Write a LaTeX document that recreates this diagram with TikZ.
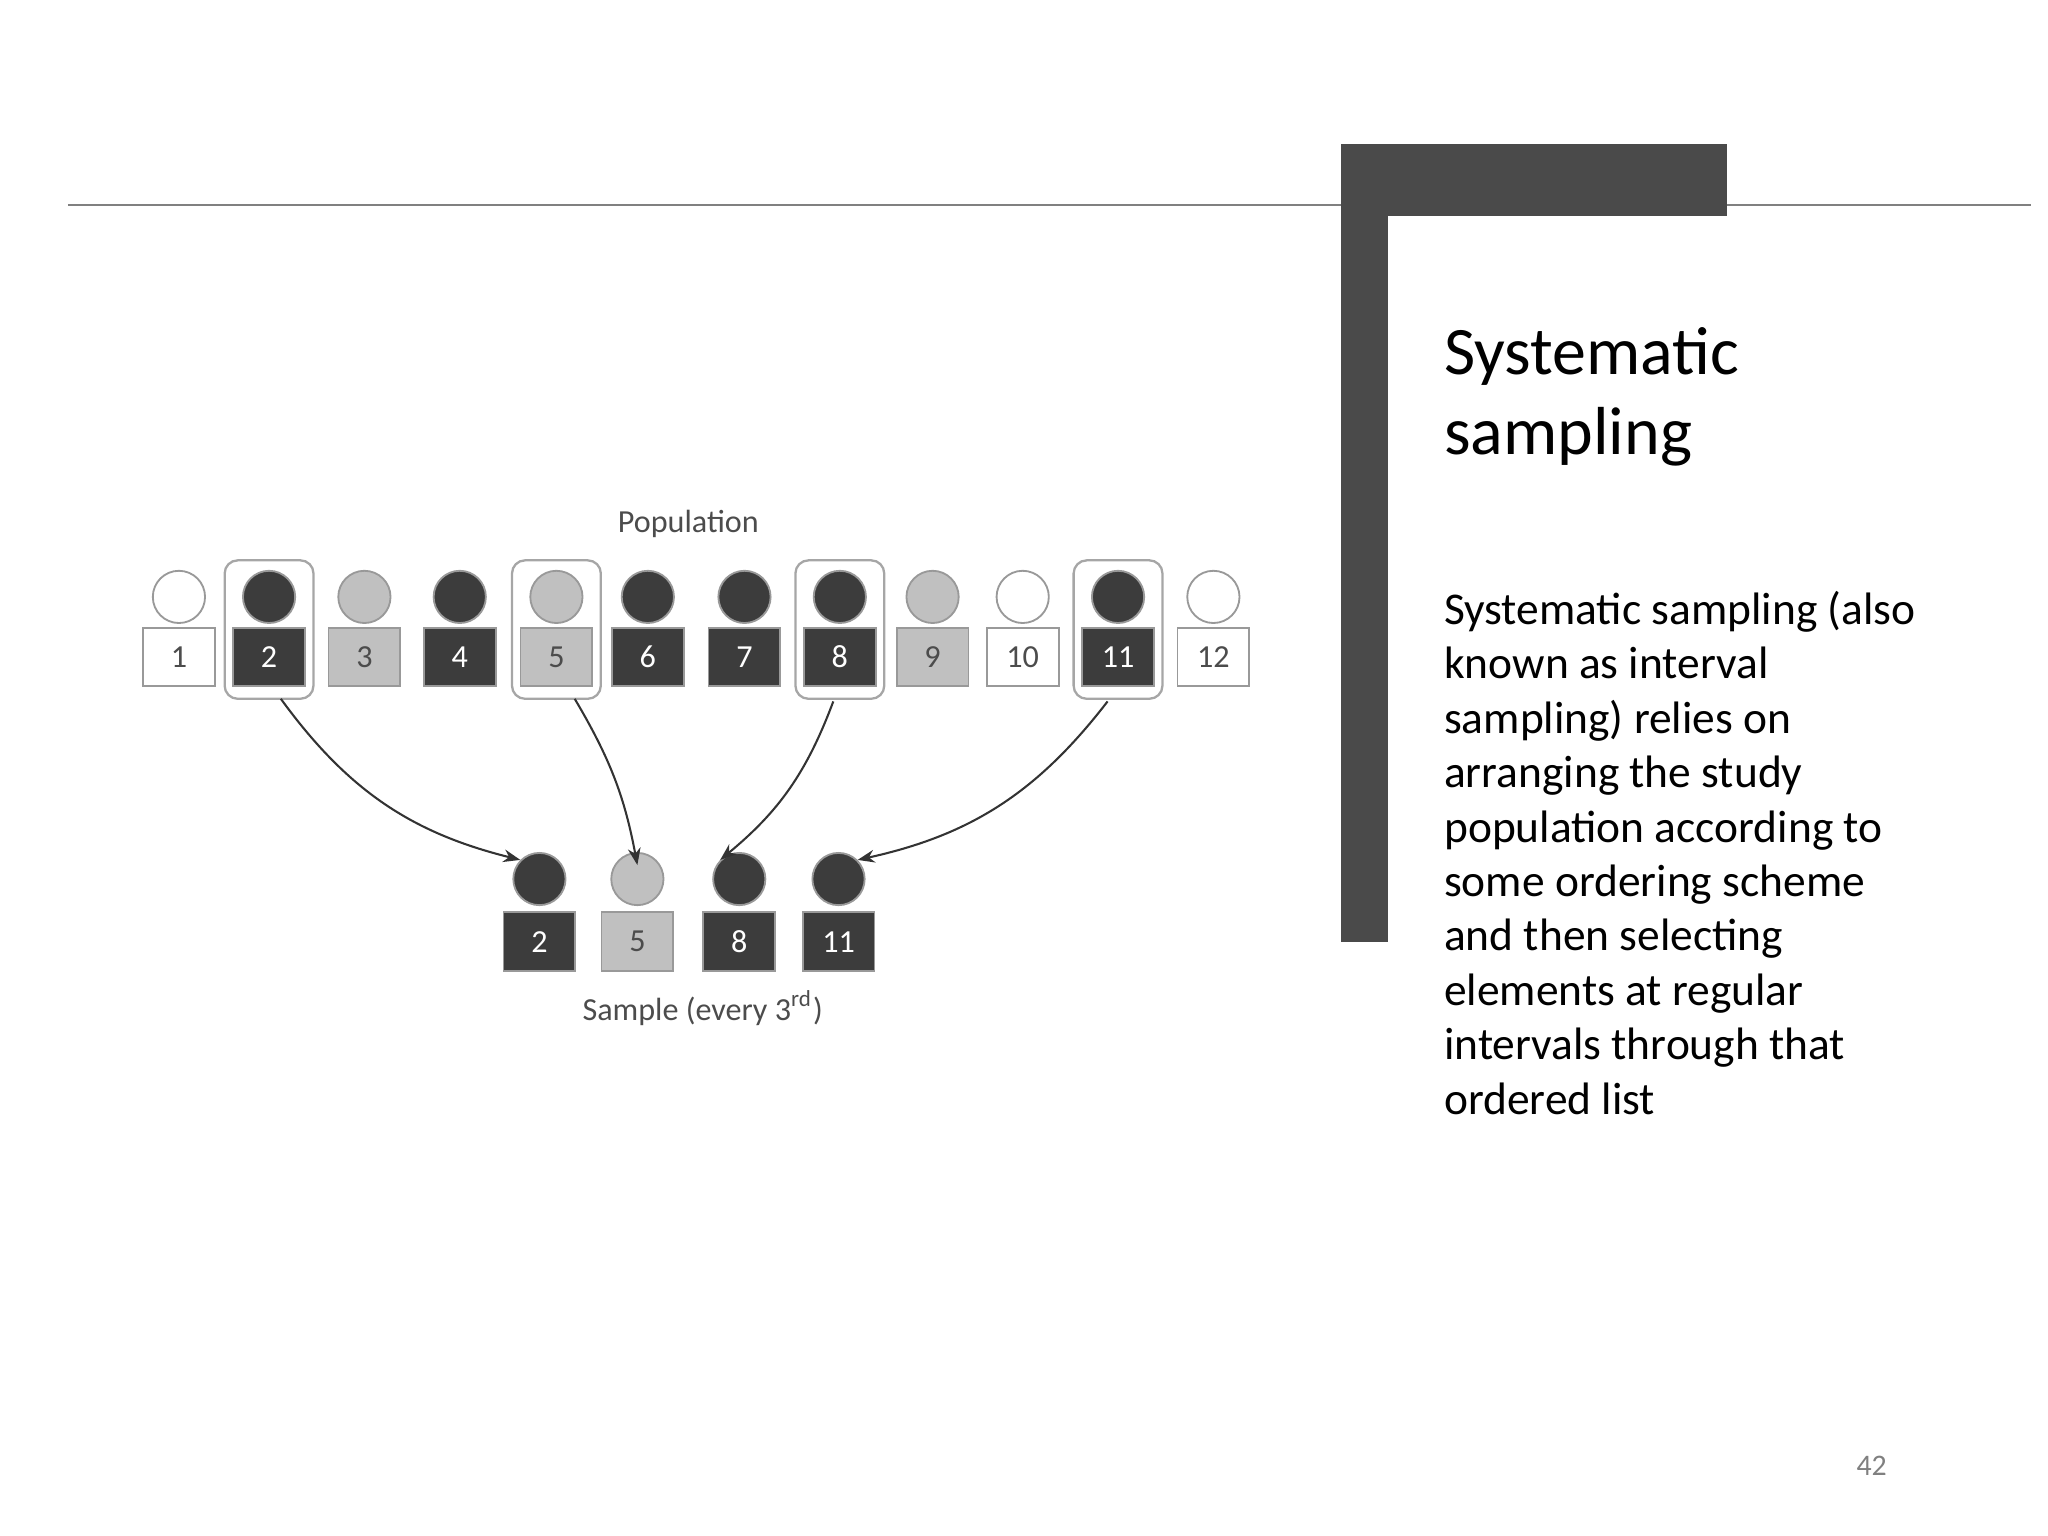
\documentclass[tikz,border=0pt]{standalone}
\usepackage{fontspec}
\setmainfont{Carlito}
\usetikzlibrary{arrows.meta}
\definecolor{dk}{HTML}{3C3C3C}
\definecolor{lt}{HTML}{C0C0C0}
\definecolor{bar}{HTML}{4A4A4A}
\tikzset{
 person/.style={circle,draw=gray!80,minimum size=4mm,inner sep=0pt},
 tag/.style={draw=gray!80,minimum width=5.5mm,minimum height=4.5mm,inner sep=0pt,font=\fontsize{7}{8}\selectfont},
 hl/.style={draw=gray!70,rounded corners=1mm,line width=0.5pt},
 arr/.style={-{Stealth[length=1.3mm]},line width=0.45pt,draw=black!80}
}
\begin{document}
\begin{tikzpicture}[x=0.1mm,y=-0.1mm]
\useasboundingbox (0,0) rectangle (1568,1176);
\draw[gray,line width=0.5pt] (52,157) -- (1555,157);
\fill[bar] (1027,110) rectangle (1322,165);
\fill[bar] (1027,110) rectangle (1063,721);
\node[anchor=north west,align=left,inner sep=0pt,font=\fontsize{14.8}{17.5}\selectfont] (title) at (1105,250) {Systematic\\sampling};
\node[anchor=north west,align=left,font=\fontsize{9.9}{11.85}\selectfont,inner sep=0pt] (body) at (1105,452) {Systematic sampling (also\\known as interval\\sampling) relies on\\arranging the study\\population according to\\some ordering scheme\\and then selecting\\elements at regular\\intervals through that\\ordered list};
\node[text=gray,font=\fontsize{6.5}{8}\selectfont] (pg) at (1433,1122) {42};
% highlights
\foreach \x in {206,426,643,856}
  \draw[hl] (\x-34,429) rectangle (\x+34,535);
\node[text=black!70,font=\fontsize{7}{8}\selectfont] (pop) at (527,401) {Population};
\foreach \x/\n/\c/\tc in {137/1/white/black!70,206/2/dk/white,279/3/lt/black!70,352/4/dk/white,426/5/lt/black!70,496/6/dk/white,570/7/dk/white,643/8/dk/white,714/9/lt/black!70,783/10/white/black!70,856/11/dk/white,929/12/white/black!70}{
  \node[person,fill=\c] (p\n) at (\x,457) {};
  \node[tag,fill=\c,text=\tc] (t\n) at (\x,503) {\n};
}
\foreach \x/\n/\c/\tc in {413/2/dk/white,488/5/lt/black!70,566/8/dk/white,642/11/dk/white}{
  \node[person,fill=\c] (s\n) at (\x,673) {};
  \node[tag,fill=\c,text=\tc] (u\n) at (\x,721) {\n};
}
\node[text=black!70,font=\fontsize{7}{8}\selectfont] (samp) at (538,772) {Sample (every 3\textsuperscript{rd})};
\coordinate (a1) at (215,535); \coordinate (a2) at (440,535);
\coordinate (a3) at (638,537); \coordinate (a4) at (848,537);
\draw[arr] (a1) to[bend right=20] (s2.north west);
\draw[arr] (a2) to[bend left=10] ([yshift=-0.1cm]s5.north);
\draw[arr] (a3) to[bend left=15] (s8.north west);
\draw[arr] (a4) to[bend left=20] (s11.north east);
\end{tikzpicture}
\end{document}
